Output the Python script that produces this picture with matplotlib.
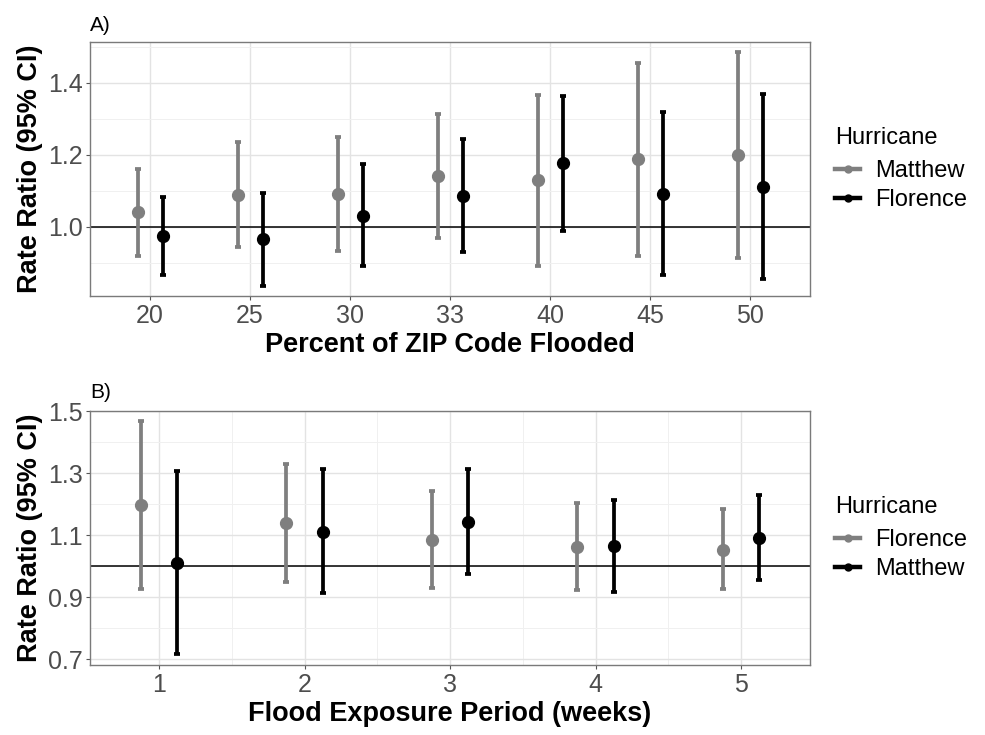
import matplotlib.pyplot as plt
import numpy as np
from matplotlib.lines import Line2D

plt.rcParams['font.family'] = ['Liberation Sans', 'DejaVu Sans']

# Panel A: percent of ZIP code flooded
pct_labels = ['20', '25', '30', '33', '40', '45', '50']
a_matthew_est = [1.042, 1.089, 1.092, 1.141, 1.129, 1.189, 1.199]
a_matthew_lo = [0.920, 0.943, 0.934, 0.968, 0.890, 0.920, 0.913]
a_matthew_hi = [1.160, 1.236, 1.250, 1.314, 1.367, 1.456, 1.486]
a_florence_est = [0.975, 0.965, 1.031, 1.085, 1.177, 1.092, 1.112]
a_florence_lo = [0.867, 0.837, 0.892, 0.929, 0.989, 0.865, 0.856]
a_florence_hi = [1.084, 1.094, 1.174, 1.244, 1.365, 1.320, 1.369]

# Panel B: flood exposure period (weeks)
weeks = [1, 2, 3, 4, 5]
b_florence_est = [1.196, 1.138, 1.086, 1.062, 1.054]
b_florence_lo = [0.928, 0.948, 0.929, 0.923, 0.926]
b_florence_hi = [1.467, 1.329, 1.244, 1.204, 1.185]
b_matthew_est = [1.011, 1.111, 1.142, 1.065, 1.092]
b_matthew_lo = [0.716, 0.913, 0.976, 0.917, 0.957]
b_matthew_hi = [1.308, 1.313, 1.314, 1.214, 1.230]

GREY = '#7f7f7f'
BLACK = '#000000'
TICK_COL = '#4d4d4d'
dodge = 0.125


def pointrange(ax, x, est, lo, hi, color):
    est = np.array(est)
    yerr = [est - np.array(lo), np.array(hi) - est]
    ax.errorbar(x, est, yerr=yerr, fmt='o', color=color, ms=8.5,
                elinewidth=2.7, capsize=2.5, capthick=2.7, zorder=3)


def style(ax):
    for s in ax.spines.values():
        s.set_color('#7a7a7a')
        s.set_linewidth(1.0)
    ax.tick_params(axis='both', which='major', colors='#555555', length=3,
                   labelsize=18, labelcolor=TICK_COL, pad=2.5)
    ax.tick_params(which='minor', length=0)
    ax.grid(which='major', color='#e3e3e3', linewidth=1.0)
    ax.grid(which='minor', color='#f0f0f0', linewidth=0.7)
    ax.set_axisbelow(True)
    ax.axhline(1.0, color='black', linewidth=1.1, zorder=2)


def legend(ax, labels, colors):
    handles = [Line2D([0], [0], color=c, lw=3.2, marker='o', ms=5) for c in colors]
    leg = ax.legend(handles, labels, title='Hurricane', loc='center left',
                    bbox_to_anchor=(1.035, 0.5), frameon=False, fontsize=17,
                    title_fontsize=17, handlelength=1.05, handletextpad=0.65,
                    labelspacing=0.28, borderpad=0, borderaxespad=0)
    leg._legend_box.align = 'left'
    leg._legend_box.sep = 8


fig = plt.figure(figsize=(9.85, 7.35), dpi=100)

# ---- A ----
axA = fig.add_axes([0.0914, 0.5973, 0.7310, 0.3456])
xA = np.arange(1, len(pct_labels) + 1)
style(axA)
pointrange(axA, xA - dodge, a_matthew_est, a_matthew_lo, a_matthew_hi, GREY)
pointrange(axA, xA + dodge, a_florence_est, a_florence_lo, a_florence_hi, BLACK)
axA.set_xlim(0.4, 7.6)
axA.set_ylim(0.808, 1.514)
axA.set_xticks(xA)
axA.set_xticklabels(pct_labels)
axA.set_yticks([1.0, 1.2, 1.4])
axA.set_yticks([0.9, 1.1, 1.3, 1.5], minor=True)
axA.set_ylabel('Rate Ratio (95% CI)', fontsize=19.5, fontweight='bold', labelpad=3)
axA.set_xlabel('Percent of ZIP Code Flooded', fontsize=19.5, fontweight='bold', labelpad=3.5)
axA.text(0.0, 1.045, 'A)', transform=axA.transAxes, fontsize=15, ha='left', va='baseline')
legend(axA, ['Matthew', 'Florence'], [GREY, BLACK])

# ---- B ----
axB = fig.add_axes([0.0914, 0.0952, 0.7310, 0.3456])
xB = np.array(weeks)
style(axB)
pointrange(axB, xB - dodge, b_florence_est, b_florence_lo, b_florence_hi, GREY)
pointrange(axB, xB + dodge, b_matthew_est, b_matthew_lo, b_matthew_hi, BLACK)
axB.set_xlim(0.526, 5.474)
axB.set_ylim(0.682, 1.50)
axB.set_xticks(weeks)
axB.set_xticks([1.5, 2.5, 3.5, 4.5], minor=True)
axB.set_yticks([0.7, 0.9, 1.1, 1.3, 1.5])
axB.set_yticks([0.8, 1.0, 1.2, 1.4], minor=True)
axB.set_ylabel('Rate Ratio (95% CI)', fontsize=19.5, fontweight='bold', labelpad=3)
axB.set_xlabel('Flood Exposure Period (weeks)', fontsize=19.5, fontweight='bold', labelpad=3)
axB.text(0.0, 1.05, 'B)', transform=axB.transAxes, fontsize=15, ha='left', va='baseline')
legend(axB, ['Florence', 'Matthew'], [GREY, BLACK])

fig.savefig('out.png', dpi=100)
